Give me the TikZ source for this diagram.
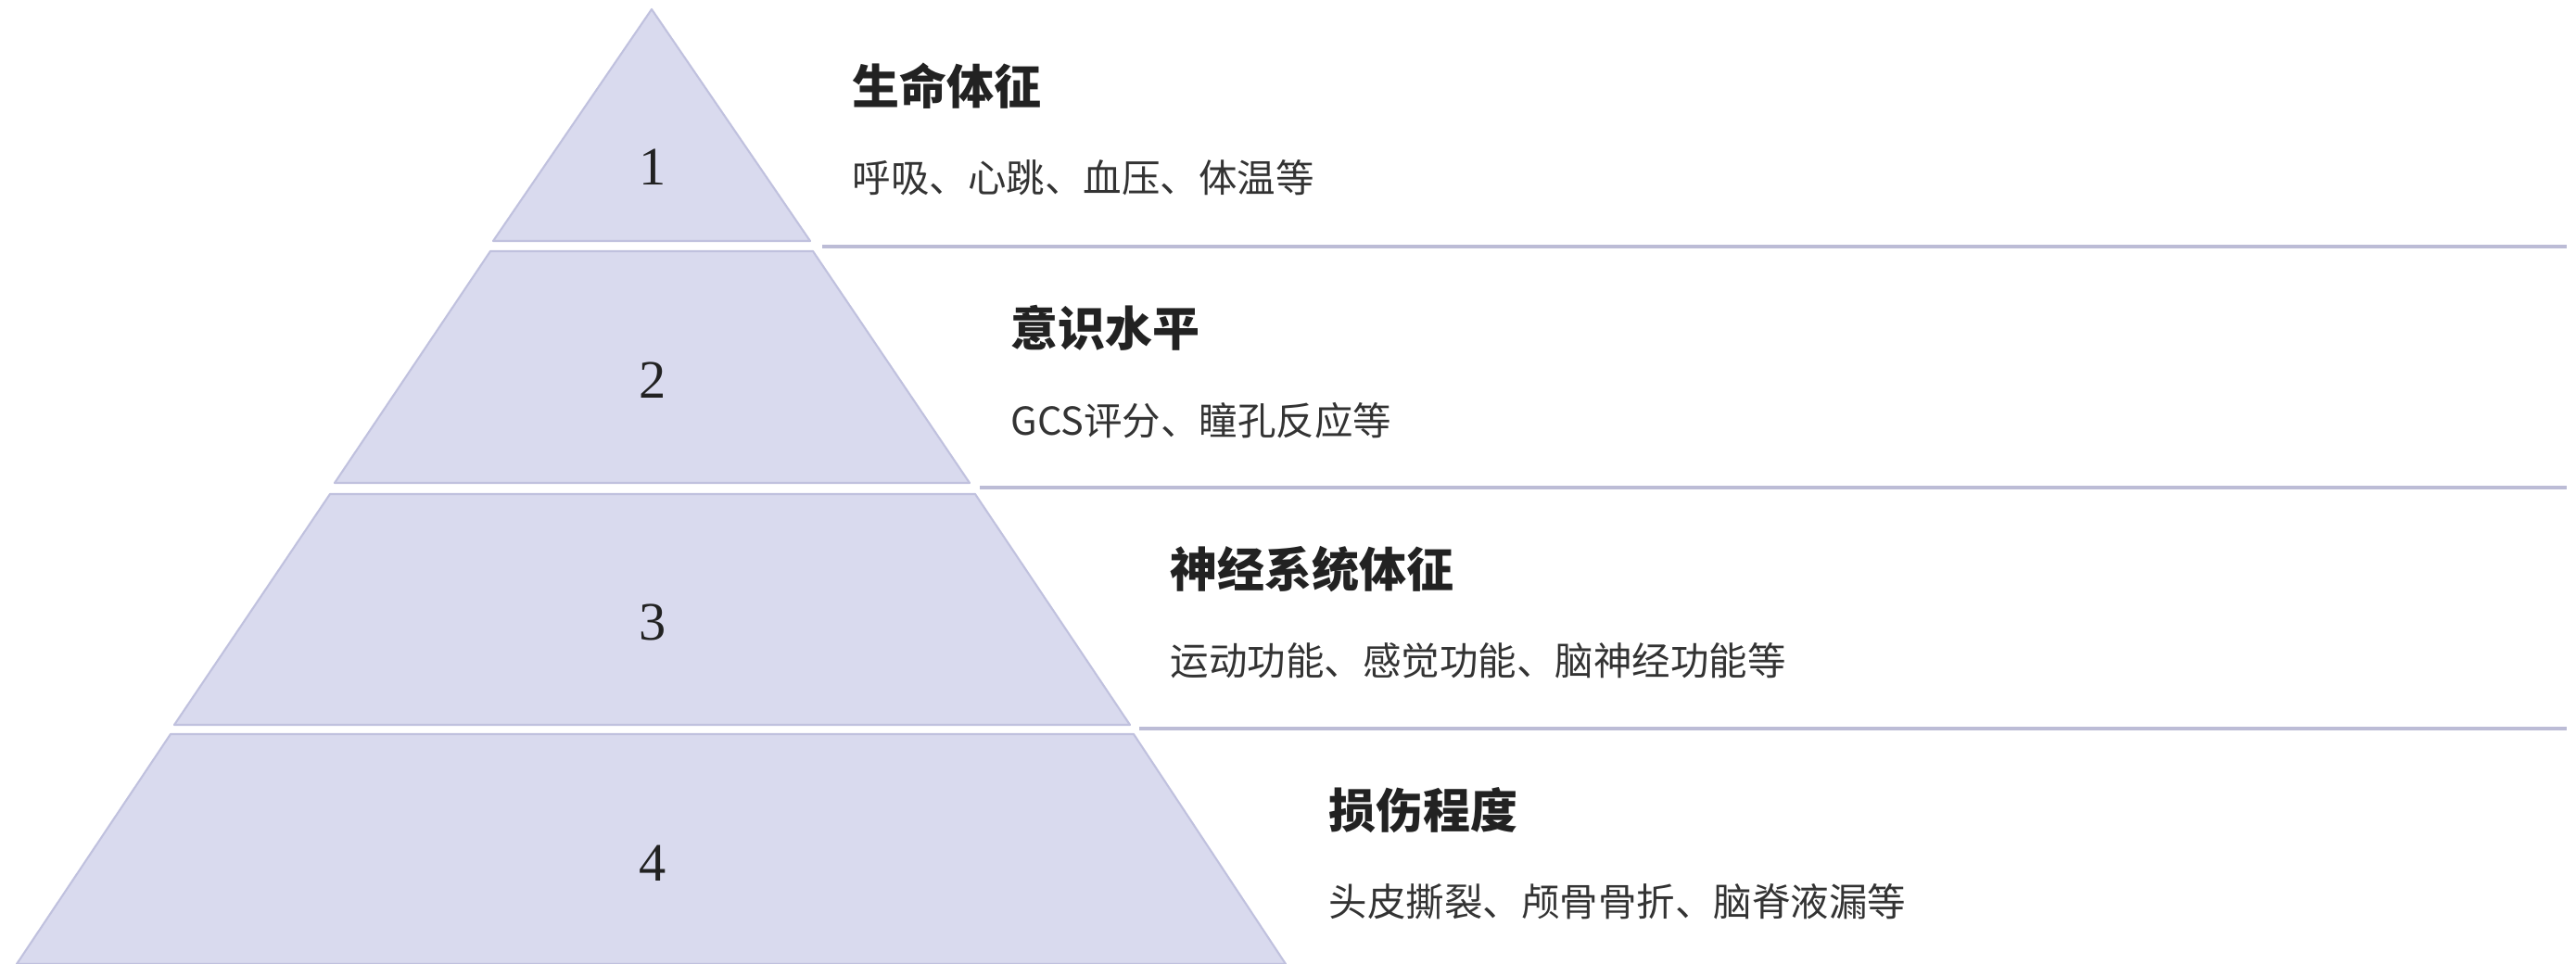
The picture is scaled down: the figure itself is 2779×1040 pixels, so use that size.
\documentclass[tikz,border=0pt]{standalone}
\usepackage{fontspec}
\newfontfamily\cjk{Noto Sans CJK SC}
\newfontfamily\numfont{Liberation Serif}
\definecolor{layerfill}{RGB}{217,218,238}
\definecolor{layerdraw}{RGB}{192,193,222}
\definecolor{sepline}{RGB}{188,188,214}
\definecolor{titlecol}{RGB}{34,34,34}
\definecolor{subcol}{RGB}{51,51,51}
\begin{document}
\begin{tikzpicture}[x=0.01cm,y=-0.01cm,
  layer/.style={fill=layerfill,draw=layerdraw,line width=0.6pt,line join=round},
  sep/.style={draw=sepline,line width=0.9pt},
  numlbl/.style={inner sep=0pt,font=\numfont\fontsize{16.6pt}{18pt}\selectfont,text=titlecol},
  ttl/.style={anchor=west,inner sep=0pt,font=\cjk\bfseries\fontsize{14.5pt}{17pt}\selectfont,text=titlecol},
  subt/.style={anchor=west,inner sep=0pt,font=\cjk\fontsize{11.8pt}{14pt}\selectfont,text=subcol}]
\useasboundingbox (0,0) rectangle (2779,1040);
% pyramid layers
\path[layer] (703,10) -- (874,260) -- (532,260) -- cycle;
\path[layer] (529,271) -- (877,271) -- (1046,521) -- (361,521) -- cycle;
\path[layer] (356,533) -- (1052,533) -- (1219,782) -- (188,782) -- cycle;
\path[layer] (184,792) -- (1223,792) -- (1387,1040) -- (18,1040) -- cycle;
% numbers
\node[numlbl] (n1) at (704,180) {1};
\node[numlbl] (n2) at (704,410) {2};
\node[numlbl] (n3) at (704,671) {3};
\node[numlbl] (n4) at (704,931) {4};
% separator lines
\coordinate (s1a) at (887,266); \coordinate (s1b) at (2769,266);
\coordinate (s2a) at (1057,526); \coordinate (s2b) at (2769,526);
\coordinate (s3a) at (1229,786); \coordinate (s3b) at (2769,786);
\draw[sep] (s1a) -- (s1b);
\draw[sep] (s2a) -- (s2b);
\draw[sep] (s3a) -- (s3b);
% texts
\node[ttl] (t1) at (919,93) {生命体征};
\node[subt] (d1) at (919,192) {呼吸、心跳、血压、体温等};
\node[ttl] (t2) at (1090,354) {意识水平};
\node[subt] (d2) at (1090,454) {GCS评分、瞳孔反应等};
\node[ttl] (t3) at (1262,614) {神经系统体征};
\node[subt] (d3) at (1262,713) {运动功能、感觉功能、脑神经功能等};
\node[ttl] (t4) at (1433,874) {损伤程度};
\node[subt] (d4) at (1433,973) {头皮撕裂、颅骨骨折、脑脊液漏等};
\end{tikzpicture}
\end{document}
